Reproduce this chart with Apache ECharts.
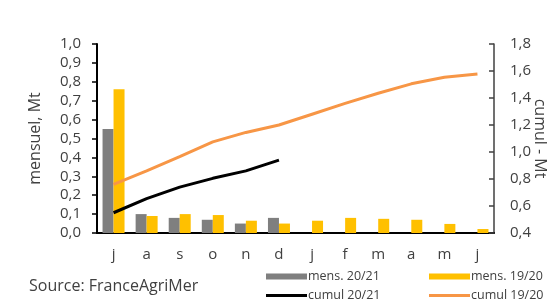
<!DOCTYPE html>
<html>
<head>
<meta charset="utf-8">
<script src="https://cdn.jsdelivr.net/npm/echarts@6/dist/echarts.min.js"></script>
<style>
  html, body { margin: 0; padding: 0; background: #fff; }
  #chart { width: 554px; height: 305px; }
</style>
</head>
<body>
<div id="chart"></div>
<script>
const months = ["j", "a", "s", "o", "n", "d", "j", "f", "m", "a", "m", "j"];
const mens2021 = [0.55, 0.10, 0.08, 0.07, 0.05, 0.08, null, null, null, null, null, null];
const mens1920 = [0.76, 0.09, 0.10, 0.095, 0.065, 0.05, 0.065, 0.08, 0.075, 0.07, 0.048, 0.021];
const cumul2021 = [0.55, 0.655, 0.74, 0.805, 0.86, 0.94, null, null, null, null, null, null];
const cumul1920 = [0.76, 0.86, 0.965, 1.075, 1.145, 1.20, 1.28, 1.36, 1.435, 1.505, 1.553, 1.578];

const font = "'Open Sans', sans-serif";
const textColor = "#404040";
const comma = (d) => (v) => v.toFixed(d).replace(".", ",");

// one legend per entry so bars and lines can have their own icon height
const legendItem = (name, left, top, h) => ({
  left: left, top: top, itemWidth: 41, itemHeight: h, icon: "rect", itemGap: 0,
  textStyle: { fontSize: 12.5, color: textColor, fontFamily: font, padding: [0, 0, 0, -4] },
  data: [name]
});

const chart = echarts.init(document.getElementById("chart"));
chart.setOption({
  animation: false,
  backgroundColor: "#fff",
  textStyle: { fontFamily: font, color: textColor },
  grid: { left: 97, right: 60, top: 44, bottom: 72, containLabel: false, outerBoundsMode: "none" },
  graphic: [{
    type: "text", left: 29, top: 278,
    style: { text: "Source: FranceAgriMer", fontSize: 16, fill: textColor, fontFamily: font }
  }],
  legend: [
    legendItem("mens. 20/21", 261, 265, 6),
    legendItem("mens. 19/20", 424, 265, 6),
    legendItem("cumul 20/21", 261, 284, 3),
    legendItem("cumul 19/20", 424, 284, 3)
  ],
  xAxis: {
    type: "category",
    data: months,
    axisLine: { lineStyle: { color: "#000", width: 2 } },
    axisTick: { show: false },
    axisLabel: { fontSize: 15, color: textColor, margin: 14, fontFamily: font }
  },
  yAxis: [
    {
      type: "value", min: 0, max: 1, interval: 0.1,
      name: "mensuel, Mt", nameLocation: "middle", nameGap: 54, nameRotate: 90, nameMoveOverlap: false,
      nameTextStyle: { fontSize: 16, color: textColor, fontFamily: font },
      axisLine: { show: true, lineStyle: { color: "#000", width: 2 } },
      axisTick: { show: true, length: 5, lineStyle: { color: "#000", width: 1.5 } },
      axisLabel: { fontSize: 15, color: textColor, margin: 16, formatter: comma(1), fontFamily: font },
      splitLine: { show: false }
    },
    {
      type: "value", min: 0.4, max: 1.8, interval: 0.2, position: "right",
      name: "cumul - Mt", nameLocation: "middle", nameGap: 38, nameRotate: -90, nameMoveOverlap: false,
      nameTextStyle: { fontSize: 16, color: textColor, fontFamily: font },
      axisLine: { show: true, lineStyle: { color: "#404040", width: 1.5 } },
      axisTick: { show: true, inside: true, length: 5, lineStyle: { color: "#404040", width: 1.5 } },
      axisLabel: { fontSize: 15, color: textColor, margin: 16, formatter: comma(1), fontFamily: font },
      splitLine: { show: false }
    }
  ],
  series: [
    { name: "mens. 20/21", type: "bar", data: mens2021, barWidth: 11, barGap: "0%", itemStyle: { color: "#7f7f7f" } },
    { name: "mens. 19/20", type: "bar", data: mens1920, barWidth: 11, barGap: "0%", itemStyle: { color: "#ffc000" } },
    { name: "cumul 20/21", type: "line", yAxisIndex: 1, data: cumul2021, symbol: "none",
      lineStyle: { color: "#000", width: 3 }, itemStyle: { color: "#000" } },
    { name: "cumul 19/20", type: "line", yAxisIndex: 1, data: cumul1920, symbol: "none",
      lineStyle: { color: "#f79646", width: 3 }, itemStyle: { color: "#f79646" } }
  ]
});
</script>
</body>
</html>
